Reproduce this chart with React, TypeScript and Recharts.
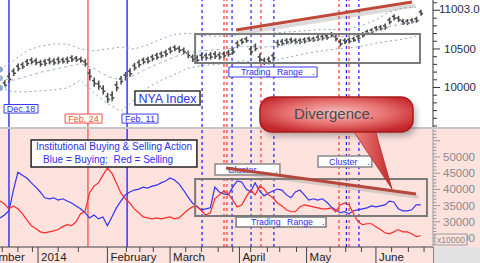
import React from 'react';
import { ComposedChart, Bar, Line, XAxis, YAxis, ReferenceLine, ReferenceArea } from 'recharts';

const FONT = 'Liberation Sans, Arial, sans-serif';
const X_DOMAIN: [number, number] = [-17, 176.5];
const PRICE_DOMAIN: [number, number] = [9487, 11136];
const FLOW_DOMAIN: [number, number] = [22220, 58640];

// days counted from 1 Jan 2014
const days = [-17, -15, -13, -11, -9, -7, -5, -3, -1, 1, 3, 5, 7, 9, 11, 13, 15, 17, 19, 21, 23, 25, 27, 29, 31, 33, 35, 37, 39, 41, 43, 45, 47, 49, 51, 53, 55, 57, 59, 61, 63, 65, 67, 69, 71, 73, 75, 77, 79, 81, 83, 85, 87, 89, 91, 93, 95, 97, 99, 101, 103, 105, 107, 109, 111, 113, 115, 117, 119, 121, 123, 125, 127, 129, 131, 133, 135, 137, 139, 141, 143, 145, 147, 149, 151, 153, 155, 157, 159, 161, 163, 165, 167, 169, 171];

const nyaHigh = [10090, 10100, 10190, 10250, 10310, 10330, 10370, 10390, 10380, 10360,
  10370, 10390, 10380, 10400, 10390, 10400, 10420, 10410, 10400, 10370,
  10240, 10130, 10090, 10030, 9930, 9950, 10080, 10150, 10200, 10250,
  10320, 10360, 10390, 10400, 10430, 10450, 10470, 10490, 10530, 10550,
  10540, 10520, 10480, 10430, 10420, 10450, 10450, 10460, 10470, 10460,
  10470, 10490, 10520, 10610, 10640, 10660, 10540, 10570, 10440, 10390,
  10400, 10450, 10620, 10630, 10640, 10650, 10640, 10640, 10650, 10660,
  10660, 10680, 10690, 10700, 10720, 10690, 10630, 10640, 10650, 10660,
  10690, 10720, 10750, 10770, 10800, 10810, 10830, 10910, 10950, 10930,
  10890, 10890, 10900, 10920, 11010];
const nyaLow = [9980, 9990, 10060, 10150, 10210, 10240, 10280, 10300, 10290, 10270,
  10280, 10300, 10290, 10300, 10310, 10310, 10330, 10330, 10320, 10270,
  10090, 10010, 9970, 9910, 9800, 9820, 9950, 10040, 10090, 10140,
  10220, 10260, 10300, 10310, 10340, 10360, 10380, 10400, 10440, 10470,
  10450, 10430, 10380, 10330, 10320, 10360, 10350, 10360, 10370, 10360,
  10380, 10400, 10430, 10510, 10560, 10580, 10420, 10470, 10320, 10290,
  10300, 10350, 10520, 10540, 10560, 10570, 10560, 10560, 10570, 10590,
  10590, 10600, 10610, 10620, 10650, 10600, 10530, 10560, 10570, 10590,
  10610, 10650, 10680, 10700, 10730, 10740, 10750, 10820, 10870, 10850,
  10810, 10810, 10830, 10840, 10930];

const bandDays = [-17, -11, -5, 1, 7, 13, 19, 25, 31, 37, 43, 49, 55, 61, 67, 73, 79, 85, 91, 97, 103, 109, 115, 121, 127, 133, 139, 145, 151, 157, 163, 169];
const bandUpper = [10235, 10348, 10475, 10538, 10564, 10564, 10500, 10475, 10500, 10526, 10500, 10551, 10627, 10690, 10703, 10678, 10665, 10665, 10690, 10703, 10703, 10716, 10728, 10741, 10754, 10754, 10766, 10804, 10880, 10981, 11032, 11045];
const bandMiddle = [10121, 10095, 10146, 10197, 10235, 10273, 10311, 10247, 10146, 10095, 10159, 10247, 10323, 10399, 10450, 10475, 10488, 10500, 10538, 10526, 10526, 10551, 10576, 10602, 10640, 10652, 10665, 10690, 10741, 10792, 10830, 10855];
const bandLower = [9994, 9944, 9944, 9956, 9969, 9994, 10095, 9930, 9792, 9690, 9842, 9994, 10095, 10171, 10247, 10285, 10298, 10311, 10348, 10323, 10323, 10374, 10412, 10450, 10475, 10500, 10513, 10538, 10576, 10602, 10627, 10665];

const buying = [31200, 32100, 33400, 39800, 45300, 44400, 43500, 42000, 40700, 39200,
  37400, 37100, 37400, 36700, 37100, 36400, 35800, 34900, 34000, 32800,
  31200, 32100, 30900, 31500, 28800, 31500, 34300, 36400, 38300, 39200,
  39800, 40100, 40700, 40400, 41000, 41300, 42000, 42600, 43500, 42900,
  41700, 39800, 37700, 35800, 34600, 33700, 34000, 34300, 40700, 39200,
  38600, 38300, 40700, 42600, 42300, 40100, 39200, 42000, 39500, 38000,
  38900, 39500, 40100, 39800, 38300, 37400, 39200, 39800, 38300, 36700,
  37100, 36700, 37100, 36100, 34600, 33700, 32800, 33100, 32500, 33400,
  33700, 34000, 34300, 34900, 34600, 34900, 35200, 36400, 36100, 34000,
  33400, 33400, 33700, 35200, 35200];
const selling = [36400, 35500, 34000, 34900, 34000, 32500, 30600, 28800, 27900, 26900,
  26600, 26900, 27200, 27600, 28500, 29100, 28800, 30000, 32500, 33100,
  38900, 41000, 42000, 44400, 46600, 45000, 42000, 38900, 37100, 35800,
  34000, 32800, 31500, 31200, 30900, 31200, 30900, 31200, 31500, 30900,
  31200, 32500, 33700, 34600, 34900, 33400, 32100, 32800, 37100, 38300,
  39500, 38600, 36700, 34600, 35200, 37700, 39800, 38300, 41000, 40100,
  38300, 37400, 35800, 34900, 33700, 33100, 33100, 34600, 35200, 34900,
  34600, 34300, 34000, 34000, 34300, 33100, 35200, 35800, 35200, 32500,
  30000, 29100, 29400, 29400, 28500, 27600, 26600, 26300, 26900, 27600,
  26900, 26900, 26300, 25400, 25700];

const monthTicks = [-31, 0, 31, 59, 90, 120, 151];
const monthLabels = ['December', '2014', 'February', 'March', 'April', 'May', 'June'];
const weekTicks = [-16, -9, -2.5, 9, 18, 39.5, 45.5, 51.5, 66, 73, 80.5, 87, 95, 102.5, 108, 115.5, 130.5, 137.5, 144.5, 158, 165.5, 172.5];

const priceMajorTicks = [10000, 10500, 11003.08];
const priceMajorLabels = ['10000', '10500', '11003.08'];
const priceMinorTicks = [9500, 9600, 9700, 9800, 9900, 10100, 10200, 10300, 10400, 10600, 10700, 10800, 10900, 11100];

const flowMajorTicks = [25000, 30000, 35000, 40000, 45000, 50000, 55000];
const flowMajorLabels = ['25000', '30000', '35000', '40000', '45000', '50000', ''];
const flowMinorTicks = [23000, 24000, 26000, 27000, 28000, 29000, 31000, 32000, 33000, 34000, 36000, 37000, 38000, 39000, 41000, 42000, 43000, 44000, 46000, 47000, 48000, 49000, 51000, 52000, 53000, 54000, 56000, 57000, 58000];

const solidMarkers = [
  { day: -13, color: '#2b2bff' },
  { day: 22.3, color: '#ff5a5a' },
  { day: 39.8, color: '#2b2bff' },
];
const dashedBlueDays = [73.3, 86.7, 95.2, 105.4, 137.8, 143.4];
const dashedRedDays = [83.1, 84.4, 99.6, 134.5, 139.0];

const priceData = days.map((d, i) => {
  const b = bandDays.indexOf(d);
  return {
    day: d,
    hl: [nyaLow[i], nyaHigh[i]],
    upper: b >= 0 ? bandUpper[b] : null,
    middle: b >= 0 ? bandMiddle[b] : null,
    lower: b >= 0 ? bandLower[b] : null,
  };
});
const flowData = days.map((d, i) => ({ day: d, buy: buying[i], sell: selling[i] }));

const BLUE_TEXT = '#2f2fee';
const BOX_Z = 450;
const TREND_Z = 460;

const OhlcShape = (props: any) => {
  const { x, y, width, height } = props;
  if (x == null || y == null) return null;
  const cx = x + width / 2;
  const top = Math.min(y, y + height);
  const bot = Math.max(y, y + height);
  const h = bot - top;
  return (
    <g stroke="#4d4d4d" strokeWidth={1.6}>
      <line x1={cx} x2={cx} y1={top} y2={bot} />
      <line x1={cx - 2.2} x2={cx} y1={top + h * 0.35} y2={top + h * 0.35} />
      <line x1={cx} x2={cx + 2.2} y1={top + h * 0.65} y2={top + h * 0.65} />
    </g>
  );
};

const PriceTick = (props: any) => {
  const { x, y, payload } = props;
  const v = payload.value;
  const mi = priceMajorTicks.indexOf(v);
  const major = mi >= 0;
  return (
    <g>
      <line x1={x} x2={x + (major ? 7 : 4)} y1={y} y2={y} stroke="#333" strokeWidth={1} />
      {major && (
        <text x={x + (v > 11000 ? 6 : 11)} y={v > 11000 ? y - 1 : y} dy={4} fontSize={11.5} fill="#2b2b4b" fontFamily={FONT}>
          {priceMajorLabels[mi]}
        </text>
      )}
    </g>
  );
};

const FlowTick = (props: any) => {
  const { x, y, payload } = props;
  const v = payload.value;
  const mi = flowMajorTicks.indexOf(v);
  const major = mi >= 0;
  return (
    <g>
      <line x1={x} x2={x + (major ? 7 : 3.5)} y1={y} y2={y} stroke="#9a9a9a" strokeWidth={1} />
      {major && flowMajorLabels[mi] && (
        <text x={x + 10} y={y} dy={4} fontSize={11.5} fill="#8a8a8a" fontFamily={FONT}>
          {flowMajorLabels[mi]}
        </text>
      )}
    </g>
  );
};

const DateTick = (props: any) => {
  const { x, y, payload } = props;
  const i = monthTicks.indexOf(payload.value);
  if (i >= 0) {
    return (
      <g>
        <line x1={x} x2={x} y1={y} y2={y + 16} stroke="#444" strokeWidth={1} />
        <text x={x + 3} y={y + 13.5} fontSize={11.5} fill="#222" fontFamily={FONT}>
          {monthLabels[i]}
        </text>
      </g>
    );
  }
  return <line x1={x} x2={x} y1={y} y2={y + 5} stroke="#444" strokeWidth={1} />;
};

const boxText = (parts: { text: string; dx: number }[], color: string, size: number) => (props: any) => {
  const vb = props.viewBox || {};
  const x = vb.x || 0;
  const y = vb.y || 0;
  const w = vb.width || 0;
  const h = vb.height || 0;
  return (
    <g>
      {parts.map((p, i) => (
        <text key={i} x={p.dx < 0 ? x + w + p.dx : x + p.dx} y={y + h / 2} dy="0.36em" fontSize={size} fill={color} fontFamily={FONT}>
          {p.text}
        </text>
      ))}
    </g>
  );
};

const centerText = (text: string, color: string, size: number) => (props: any) => {
  const vb = props.viewBox || {};
  return (
    <text x={(vb.x || 0) + (vb.width || 0) / 2} y={(vb.y || 0) + (vb.height || 0) / 2} dy="0.36em" textAnchor="middle" fontSize={size} fill={color} fontFamily={FONT}>
      {text}
    </text>
  );
};

const instLabel = (props: any) => {
  const vb = props.viewBox || {};
  const x = vb.x || 0;
  const y = vb.y || 0;
  const w = vb.width || 0;
  return (
    <g fontFamily={FONT} fill={BLUE_TEXT} fontSize={10}>
      <text x={x + w / 2} y={y + 10} textAnchor="middle">{'Institutional Buying & Selling Action'}</text>
      <text x={x + 12} y={y + 23}>{'Blue = Buying;\u00a0 Red = Selling'}</text>
    </g>
  );
};

const verticalMarkers = () => [
  ...solidMarkers.map((m, i) => (
    <ReferenceLine key={'s' + i} x={m.day} stroke={m.color} strokeWidth={1.4} ifOverflow="visible" zIndex={90} />
  )),
  ...dashedBlueDays.map((d, i) => (
    <ReferenceLine key={'b' + i} x={d} stroke="#1c1cff" strokeWidth={1.2} strokeDasharray="3 3" ifOverflow="visible" zIndex={90} />
  )),
  ...dashedRedDays.map((d, i) => (
    <ReferenceLine key={'r' + i} x={d} stroke="#ff5a5a" strokeWidth={1.5} strokeDasharray="3 3" ifOverflow="visible" zIndex={90} />
  )),
];

export default function App() {
  return (
    <div style={{ position: 'absolute', left: 0, top: 0, width: 480, height: 263, overflow: 'hidden', background: '#fff', fontFamily: FONT }}>
      <div style={{ position: 'absolute', left: 0, top: 0, width: 480, height: 127, background: '#ffffff' }} />
      <div style={{ position: 'absolute', left: 0, top: 127, width: 480, height: 2, background: '#c6c6c6' }} />
      <div style={{ position: 'absolute', left: 0, top: 129, width: 480, height: 134, background: '#fde2de' }} />
      <div style={{ position: 'absolute', left: 433, top: 247, width: 47, height: 16, background: '#e2e2e2', borderLeft: '1px solid #888', boxSizing: 'border-box' }} />

      <div style={{ position: 'absolute', left: 0, top: 0 }}>
        <ComposedChart width={480} height={127} data={priceData} margin={{ top: 0, right: 0, bottom: 0, left: 0 }}>
          <XAxis dataKey="day" type="number" domain={X_DOMAIN} allowDataOverflow hide />
          <YAxis
            orientation="right"
            width={47}
            type="number"
            domain={PRICE_DOMAIN}
            allowDataOverflow
            ticks={[...priceMinorTicks, ...priceMajorTicks]}
            interval={0}
            tickSize={0}
            tickMargin={0}
            tickLine={false}
            axisLine={{ stroke: '#333' }}
            tick={<PriceTick />}
          />
          {verticalMarkers()}
          <Line dataKey="upper" stroke="#8ea6c6" strokeWidth={1} strokeDasharray="2 3" dot={false} connectNulls isAnimationActive={false} />
          <Line dataKey="middle" stroke="#9fb3cc" strokeWidth={1} strokeDasharray="3 3" dot={false} connectNulls isAnimationActive={false} />
          <Line dataKey="lower" stroke="#8ea6c6" strokeWidth={1} strokeDasharray="2 3" dot={false} connectNulls isAnimationActive={false} />
          <Bar dataKey="hl" barSize={3} shape={<OhlcShape />} isAnimationActive={false} />
          <ReferenceArea x1={70.2} x2={170.7} y1={10318} y2={10694} fill="none" stroke="#7a7a7a" strokeWidth={2} ifOverflow="visible" zIndex={BOX_Z} />
          <ReferenceLine segment={[{ x: 89.5, y: 10700 }, { x: 168.5, y: 11064 }]} stroke="#999" strokeOpacity={0.35} strokeWidth={4} ifOverflow="visible" zIndex={TREND_Z} />
          <ReferenceLine segment={[{ x: 88.5, y: 10746 }, { x: 167.1, y: 11110 }]} stroke="#bf4a3a" strokeWidth={3} ifOverflow="visible" zIndex={TREND_Z} />
          <ReferenceArea x1={85.3} x2={124.7} y1={10136} y2={10266} fill="#fff" fillOpacity={1} stroke="#3a3aff" strokeWidth={1} ifOverflow="visible" zIndex={BOX_Z}
            label={boxText([{ text: 'Trading', dx: 12 }, { text: 'Range', dx: 48 }, { text: '.', dx: -5 }], BLUE_TEXT, 8.8)} />
          <ReferenceArea x1={43.3} x2={72.4} y1={9772} y2={9954} fill="#fff" fillOpacity={1} stroke="#333" strokeWidth={1.5} ifOverflow="visible" zIndex={BOX_Z}
            label={centerText('NYA Index', '#2a35f0', 12.5)} />
          <ReferenceArea x1={-15.2} x2={0} y1={9668} y2={9779} fill="#fff" fillOpacity={1} stroke="#3a3aff" strokeWidth={1} ifOverflow="visible" zIndex={BOX_Z}
            label={centerText('Dec.18', BLUE_TEXT, 9)} />
          <ReferenceArea x1={12.1} x2={28.6} y1={9538} y2={9655} fill="#fff" fillOpacity={1} stroke="#ff4a4a" strokeWidth={1} ifOverflow="visible" zIndex={BOX_Z}
            label={centerText('Feb. 24', '#ee5a2a', 9)} />
          <ReferenceArea x1={37.5} x2={53.6} y1={9538} y2={9655} fill="#fff" fillOpacity={1} stroke="#3a3aff" strokeWidth={1} ifOverflow="visible" zIndex={BOX_Z}
            label={centerText('Feb. 11', BLUE_TEXT, 9)} />
        </ComposedChart>
      </div>

      <div style={{ position: 'absolute', left: 0, top: 129 }}>
        <ComposedChart width={480} height={134} data={flowData} margin={{ top: 0, right: 0, bottom: 0, left: 0 }}>
          <XAxis
            dataKey="day"
            type="number"
            domain={X_DOMAIN}
            allowDataOverflow
            ticks={[...monthTicks, ...weekTicks].sort((a, b) => a - b)}
            interval={0}
            height={16}
            tickSize={0}
            tickMargin={0}
            tickLine={false}
            axisLine={{ stroke: '#444' }}
            tick={<DateTick />}
          />
          <YAxis
            orientation="right"
            width={47}
            type="number"
            domain={FLOW_DOMAIN}
            allowDataOverflow
            ticks={[...flowMinorTicks, ...flowMajorTicks]}
            interval={0}
            tickSize={0}
            tickMargin={0}
            tickLine={false}
            axisLine={{ stroke: '#9a9a9a' }}
            tick={<FlowTick />}
          />
          {verticalMarkers()}
          <Line dataKey="buy" stroke="#3434ee" strokeWidth={1.2} dot={false} isAnimationActive={false} />
          <Line dataKey="sell" stroke="#ff2a2a" strokeWidth={1.2} dot={false} isAnimationActive={false} />
          <ReferenceArea x1={70.2} x2={173.8} y1={31793} y2={43211} fill="none" stroke="#7a7a7a" strokeWidth={2} ifOverflow="visible" zIndex={BOX_Z} />
          <ReferenceArea x1={-3.1} x2={71.0} y1={46914} y2={55246} fill="#fff" fillOpacity={1} stroke="#222" strokeWidth={1.5} ifOverflow="visible" zIndex={BOX_Z}
            label={instLabel} />
          <ReferenceArea x1={79.1} x2={108.1} y1={44445} y2={47840} fill="#fff" fillOpacity={1} stroke="#8a8a8a" strokeWidth={1.5} ifOverflow="visible" zIndex={BOX_Z}
            label={boxText([{ text: 'Cluster', dx: 13 }, { text: '.', dx: -5 }], BLUE_TEXT, 9)} />
          <ReferenceArea x1={125.1} x2={149.2} y1={46914} y2={50309} fill="#fff" fillOpacity={1} stroke="#8a8a8a" strokeWidth={1.5} ifOverflow="visible" zIndex={BOX_Z}
            label={boxText([{ text: 'Cluster', dx: 11 }, { text: '.', dx: -5 }], BLUE_TEXT, 9)} />
          <ReferenceArea x1={88.5} x2={128.7} y1={28398} y2={31484} fill="#fff" fillOpacity={1} stroke="#7a7a7a" strokeWidth={1.5} ifOverflow="visible" zIndex={BOX_Z}
            label={boxText([{ text: 'Trading', dx: 15 }, { text: 'Range', dx: 51 }, { text: '.', dx: -4 }], BLUE_TEXT, 8.8)} />
          <ReferenceLine segment={[{ x: 85, y: 45700 }, { x: 170, y: 37700 }]} stroke="#999" strokeOpacity={0.35} strokeWidth={4} ifOverflow="visible" zIndex={TREND_Z} />
          <ReferenceLine segment={[{ x: 84.0, y: 46605 }, { x: 168.9, y: 38582 }]} stroke="#b5483c" strokeWidth={3} ifOverflow="visible" zIndex={TREND_Z} />
        </ComposedChart>
      </div>

      <svg width={480} height={263} style={{ position: 'absolute', left: 0, top: 0, pointerEvents: 'none' }}>
        <defs>
          <radialGradient id="calloutFill" cx="50%" cy="45%" r="60%">
            <stop offset="0%" stopColor="#f7c0c0" />
            <stop offset="55%" stopColor="#e77070" />
            <stop offset="100%" stopColor="#c3262b" />
          </radialGradient>
          <linearGradient id="wedgeFill" x1="0" y1="0" x2="1" y2="0">
            <stop offset="0%" stopColor="#f08a8a" />
            <stop offset="100%" stopColor="#c42a2a" />
          </linearGradient>
          <filter id="blur" x="-20%" y="-40%" width="140%" height="180%">
            <feGaussianBlur stdDeviation="3" />
          </filter>
        </defs>
        <rect x={263} y={101} width={153} height={35} rx={12} fill="#555" opacity={0.45} filter="url(#blur)" />
        <polygon points="350,126 374,126 392,189" fill="url(#wedgeFill)" stroke="#b82424" strokeWidth={0.8} />
        <rect x={260} y={97} width={153} height={35} rx={12} fill="url(#calloutFill)" stroke="#a81c1c" strokeWidth={1.5} />
        <text x={334} y={114} dy="0.36em" textAnchor="middle" fontSize={15} fill="#4a4a4a" fontFamily={FONT}>Divergence.</text>
        <rect x={435} y={234} width={32} height={11} fill="#fde2de" stroke="#9a9a9a" strokeWidth={1} />
        <text x={437} y={242.5} fontSize={8.5} fill="#8a8a8a" fontFamily={FONT}>x10000</text>
      </svg>
    </div>
  );
}
